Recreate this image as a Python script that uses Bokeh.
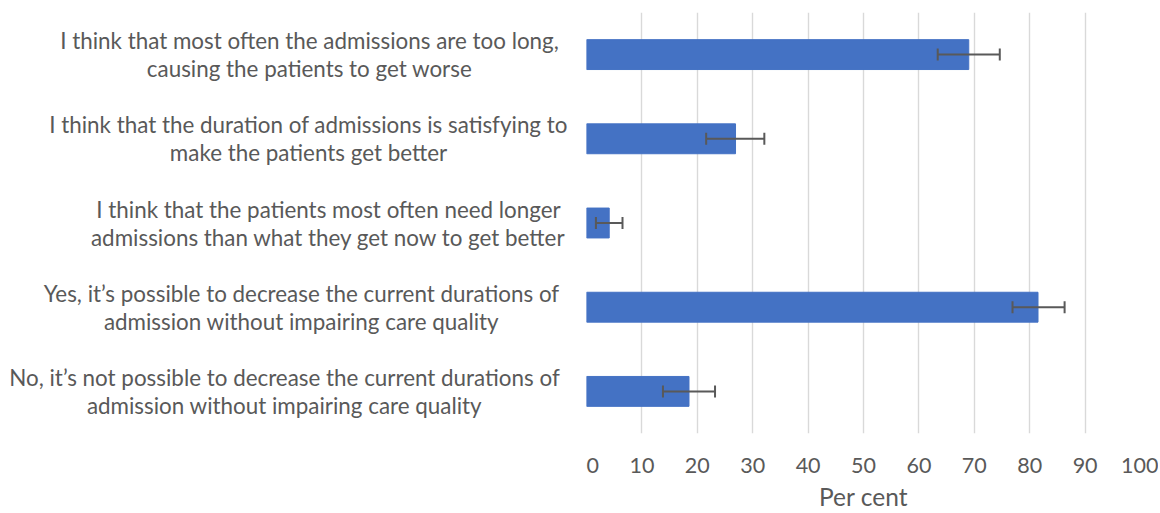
from bokeh.plotting import figure
from bokeh.layouts import row
from bokeh.models import ColumnDataSource, Whisker, TeeHead, FactorRange, Range1d, FixedTicker
from bokeh.core.properties import value
from bokeh.embed import file_html
from bokeh.resources import INLINE

# ---- data ----
categories = [
    "I think that most often the admissions are too long,\ncausing the patients to get worse",
    "I think that the duration of admissions is satisfying to\nmake the patients get better",
    "I think that the patients most often need longer\nadmissions than what they get now to get better",
    "Yes, it\u2019s possible to decrease the current durations of\nadmission without impairing care quality",
    "No, it\u2019s not possible to decrease the current durations of\nadmission without impairing care quality",
]
percent = [69.0, 26.9, 4.1, 81.5, 18.5]
err_low = [63.4, 21.6, 1.7, 76.9, 13.8]
err_high = [74.6, 32.1, 6.5, 86.3, 23.2]
x_ticks = [0, 10, 20, 30, 40, 50, 60, 70, 80, 90, 100]
x_title = "Per cent"

# ---- layout (pixels) ----
label_centers = [309, 308, 328, 301, 284]
FONT = "Lato"
TXT = "#595959"

keys = [f"c{i}" for i in range(len(categories))]
yr = FactorRange(*reversed(keys), range_padding=0)

TOP = 12
H = 513
BOTTOM = H - 436
LW = 586

# left label panel
left = figure(width=LW, height=H, x_range=Range1d(0, LW), y_range=yr,
              output_backend="svg", toolbar_location=None,
              min_border_left=0, min_border_right=0,
              min_border_top=TOP, min_border_bottom=BOTTOM)
left.axis.visible = False
left.grid.visible = False
left.outline_line_color = None

l1, l2, ys, xs = [], [], [], []
for k, c, cx in zip(keys, categories, label_centers):
    a, b = c.split("\n")
    l1.append(a); l2.append(b); ys.append(k); xs.append(cx)
src_l = ColumnDataSource(dict(x=xs, y=ys, l1=l1, l2=l2))
for col, off in (("l1", -14), ("l2", 14)):
    left.text(x="x", y="y", text=col, source=src_l, y_offset=off,
              text_align="center", text_baseline="middle",
              text_font=value(FONT), text_font_size="22.4px", text_color=TXT)

# chart panel
p = figure(width=572, height=H, x_range=Range1d(0, 100), y_range=yr,
           output_backend="svg", toolbar_location=None,
           min_border_left=0, min_border_right=18,
           min_border_top=TOP, min_border_bottom=BOTTOM)
p.outline_line_color = None
p.yaxis.visible = False
p.ygrid.visible = False

src = ColumnDataSource(dict(y=keys, v=percent, lo=err_low, hi=err_high))
p.hbar(y="y", right="v", left=0, height=0.355, source=src,
       fill_color="#4472C4", line_color="#4472C4", line_width=1)

ec = "#595959"
w = Whisker(source=src, base="y", lower="lo", upper="hi", dimension="width",
            line_color=ec, line_width=2, level="overlay",
            upper_head=TeeHead(size=12, line_color=ec, line_width=2),
            lower_head=TeeHead(size=12, line_color=ec, line_width=2))
p.add_layout(w)

p.xaxis.ticker = FixedTicker(ticks=x_ticks)
p.xaxis.axis_line_color = None
p.xaxis.major_tick_line_color = None
p.xaxis.minor_tick_line_color = None
p.xaxis.major_label_standoff = 18
p.xaxis.major_label_text_font = FONT
p.xaxis.major_label_text_font_size = "21.5px"
p.xaxis.major_label_text_color = TXT
p.xaxis.axis_label = x_title
p.xaxis.axis_label_text_font = FONT
p.xaxis.axis_label_text_font_size = "24.5px"
p.xaxis.axis_label_text_font_style = "normal"
p.xaxis.axis_label_text_color = TXT
p.xaxis.axis_label_standoff = 6
p.xgrid.grid_line_color = "#d9d9d9"
p.xgrid.grid_line_width = 1.4

layout = row(left, p, spacing=0)
open("out.html", "w").write(file_html(layout, INLINE))
